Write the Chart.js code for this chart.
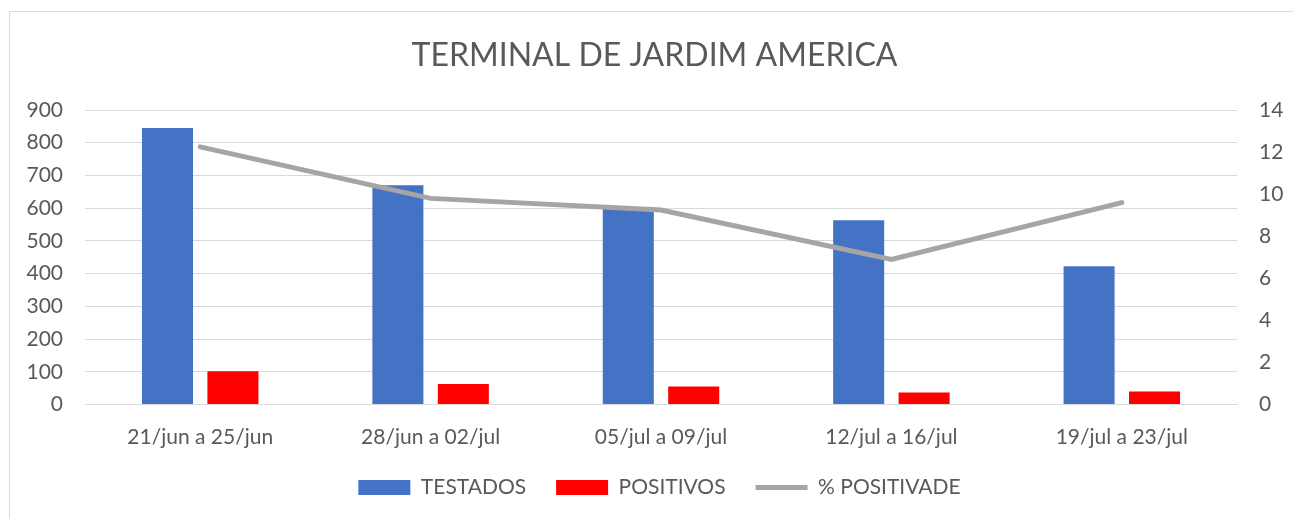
<!DOCTYPE html>
<html>
<head>
<meta charset="utf-8">
<script src="https://cdn.jsdelivr.net/npm/chart.js@4.4.1/dist/chart.umd.min.js"></script>
<style>
  html, body { margin: 0; padding: 0; background: #fff; }
  #wrap { position: relative; width: 1293px; height: 519px; }
  #frame {
    position: absolute; left: 9px; top: 11px; width: 1300px; height: 520px;
    border: 1px solid #d9d9d9; pointer-events: none;
  }
</style>
</head>
<body>
<div id="wrap">
  <canvas id="chart" width="1293" height="519"></canvas>
  <div id="frame"></div>
</div>
<script>
const categories = ['21/jun a 25/jun', '28/jun a 02/jul', '05/jul a 09/jul', '12/jul a 16/jul', '19/jul a 23/jul'];
const testados = [845, 670, 604, 563, 423];
const positivos = [102, 63, 55, 37, 40];
const positividade = [12.25, 9.8, 9.25, 6.9, 9.6];

const textColor = '#595959';
const gridColor = '#d9d9d9';
const fontFamily = 'Lato, "Open Sans", sans-serif';

// nudge title/legend sideways and stop x labels being clipped by the small axis box
const layoutTweaks = {
  id: 'layoutTweaks',
  afterLayout(chart) {
    chart.scales.x.bottom = chart.height;
    chart.titleBlock.left += 8;
    chart.titleBlock.right += 8;
    chart.legend.left += 13;
    chart.legend.right += 13;
  },
};

new Chart(document.getElementById('chart'), {
  type: 'bar',
  data: {
    labels: categories,
    datasets: [
      {
        label: 'TESTADOS',
        data: testados,
        backgroundColor: '#4472c4',
        pointStyle: 'rect',
        yAxisID: 'y',
        order: 2,
        categoryPercentage: 0.568,
        barPercentage: 0.78,
      },
      {
        label: 'POSITIVOS',
        data: positivos,
        backgroundColor: '#ff0000',
        pointStyle: 'rect',
        yAxisID: 'y',
        order: 3,
        categoryPercentage: 0.568,
        barPercentage: 0.78,
      },
      {
        type: 'line',
        label: '% POSITIVADE',
        data: positividade,
        borderColor: '#a5a5a5',
        backgroundColor: '#a5a5a5',
        borderWidth: 5,
        borderCapStyle: 'round',
        pointRadius: 0,
        pointStyle: 'line',
        tension: 0,
        yAxisID: 'y1',
        order: 1,
      },
    ],
  },
  plugins: [layoutTweaks],
  options: {
    responsive: false,
    animation: false,
    layout: { padding: { top: 36, bottom: 11, left: 0, right: 0 } },
    plugins: {
      title: {
        display: true,
        text: 'TERMINAL DE JARDIM AMERICA',
        color: textColor,
        font: { family: fontFamily, size: 32, weight: 'normal' },
        padding: { top: 0, bottom: 35.6 },
      },
      legend: {
        position: 'bottom',
        labels: {
          usePointStyle: true,
          pointStyleWidth: 52,
          boxHeight: 15,
          padding: 30,
          color: textColor,
          font: { family: fontFamily, size: 21 },
          sort: (a, b) => a.datasetIndex - b.datasetIndex,
        },
      },
      tooltip: { enabled: false },
    },
    scales: {
      x: {
        grid: { display: false, drawTicks: false },
        border: { display: true, color: gridColor },
        ticks: {
          color: textColor,
          font: { family: fontFamily, size: 21 },
          padding: 20,
          maxRotation: 0,
        },
        afterFit(scale) { scale.height = 42.4; },
      },
      y: {
        position: 'left',
        min: 0,
        max: 900,
        ticks: {
          stepSize: 100,
          color: textColor,
          font: { family: fontFamily, size: 21 },
          padding: 22,
        },
        grid: { color: gridColor, drawTicks: false },
        border: { display: false },
        afterFit(scale) { scale.width = 85; },
      },
      y1: {
        position: 'right',
        min: 0,
        max: 14,
        ticks: {
          stepSize: 2,
          color: textColor,
          font: { family: fontFamily, size: 21 },
          padding: 22,
        },
        grid: { display: false, drawTicks: false },
        border: { display: false },
        afterFit(scale) { scale.width = 56; },
      },
    },
  },
});
</script>
</body>
</html>
